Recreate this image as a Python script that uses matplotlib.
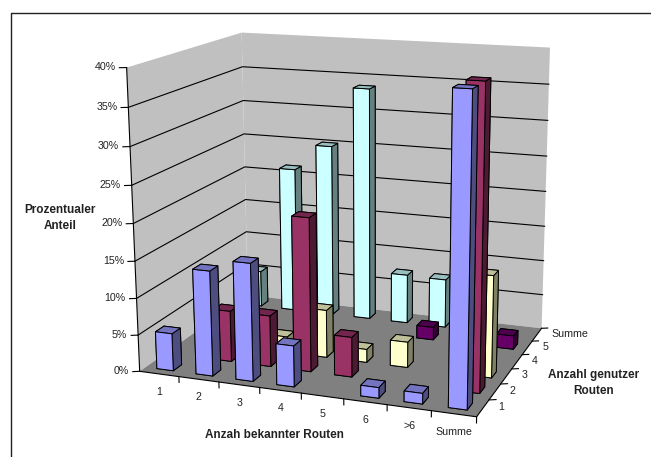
#!/usr/bin/env python3

from __future__ import annotations

import matplotlib

matplotlib.use("Agg")

import matplotlib.pyplot as plt
import numpy as np
from matplotlib.lines import Line2D
from mpl_toolkits.mplot3d.art3d import Poly3DCollection

plt.rcParams["font.family"] = ["Liberation Sans", "DejaVu Sans"]

WIDTH, HEIGHT = 651, 457

known_labels = ["1", "2", "3", "4", "5", "6", ">6", "Summe"]
used_labels = ["1", "2", "3", "4", "5", "Summe"]
z_ticks = [0, 5, 10, 15, 20, 25, 30, 35, 40]

# share in percent per number of known routes, one list per number of used routes
used_1 = [5.1, 14.2, 15.8, 5.5, 0, 1.4, 1.4, 39.6]
used_2 = [0, 7.0, 7.0, 20.8, 5.4, 0, 0, 39.6]
used_3 = [0, 0, 2.2, 6.6, 1.8, 3.5, 0, 13.8]
used_4 = [0, 0, 0, 0, 0, 0, 0, 0]
used_5 = [0, 0, 0, 0, 0, 1.8, 0, 1.9]
used_sum = [5.3, 21.2, 25.0, 33.6, 7.1, 7.0, 0, 0]
series = [used_1, used_2, used_3, used_4, used_5, used_sum]
series_colors = ["#9999FF", "#993366", "#FFFFCC", "#FF8080", "#660066", "#CCFFFF"]

# world point -> image pixel pairs used to fit the camera
calib_world = np.array([
    (0, 0, 0), (8, 0, 0), (8, 6, 0), (0, 6, 0), (0, 0, 40), (0, 6, 40), (8, 6, 40),
    (8, 6, 20), (0, 0, 20), (1, 0, 0), (4, 0, 0), (7, 0, 0), (8, 2, 0), (8, 4, 0),
], dtype=float)
calib_pixel = np.array([
    (139.5, 370), (476.7, 416.7), (540.7, 327.3), (249, 297), (127.7, 68.3), (240.7, 31.7), (550.7, 48.3),
    (545, 190.7), (132.7, 223.3), (178.3, 376), (301, 393.3), (431.7, 411.7), (500.7, 385), (523, 354),
], dtype=float)


def fit_camera(world: np.ndarray, pixel: np.ndarray) -> np.ndarray:
    """Direct linear transform: 3x4 matrix from (x, y, z, 1) to image pixels."""
    scale_w = np.array([1 / 8, 1 / 6, 1 / 40])
    scale_p = 1 / 500
    rows = []
    for (x, y, z), (u, v) in zip(world * scale_w, pixel * scale_p):
        rows.append([x, y, z, 1, 0, 0, 0, 0, -u * x, -u * y, -u * z, -u])
        rows.append([0, 0, 0, 0, x, y, z, 1, -v * x, -v * y, -v * z, -v])
    p = np.linalg.svd(np.array(rows))[2][-1].reshape(3, 4)
    p = np.diag([1 / scale_p, 1 / scale_p, 1]) @ p @ np.diag([*scale_w, 1])
    # keep the depth row positive in front of the camera
    return p if p[2, 3] > 0 else -p


camera = fit_camera(calib_world, calib_pixel)


def to_pixel(x: float, y: float, z: float) -> tuple[float, float]:
    u, v, w = camera @ np.array([x, y, z, 1.0])
    return u / w, v / w


fig = plt.figure(figsize=(WIDTH / 100, HEIGHT / 100), dpi=100)
ax = fig.add_axes([0, 0, 1, 1], projection="3d", computed_zorder=False)
ax.set_axis_off()
ax.set_proj_type("ortho")  # stops Line3D clipping against the unit cube
ax.apply_aspect = lambda position=None: None


def get_proj() -> np.ndarray:
    to_view = ax.transData.inverted().get_matrix()
    flip = np.array([[1, 0, 0], [0, -1, HEIGHT], [0, 0, 1]], dtype=float)
    p = to_view @ flip @ camera
    depth = p[2] - np.array([0, 0, 0, p[2, 3] / 2])
    return np.vstack([p[0], p[1], depth, p[2]])


ax.get_proj = get_proj


def label(px: float, py: float, text: str, **kwargs) -> None:
    fig.text(px / WIDTH, 1 - py / HEIGHT, text, color="#222222", **kwargs)


# walls and floor
walls = [
    ([(0, 0, 0), (0, 6, 0), (0, 6, 40), (0, 0, 40)], "#C0C0C0"),
    ([(0, 6, 0), (8, 6, 0), (8, 6, 40), (0, 6, 40)], "#C0C0C0"),
    ([(0, 0, 0), (8, 0, 0), (8, 6, 0), (0, 6, 0)], "#808080"),
]
for verts, color in walls:
    ax.add_collection3d(Poly3DCollection([verts], facecolors=color, edgecolors="none", zorder=1))

line_style = dict(color="black", linewidth=0.8, zorder=2)
for z in z_ticks[1:-1]:
    ax.plot([0, 0, 8], [0, 6, 6], [z, z, z], **line_style)
for z in z_ticks:
    ax.plot([-0.14, 0], [-0.07, 0], [z, z], **line_style)
    px, py = to_pixel(0, 0, z)
    label(px - 11, py - 0.5, f"{z}%", ha="right", va="center", fontsize=7.7)

ax.plot([0, 0], [0, 0], [0, 40], **line_style)
ax.plot([0, 8, 8], [0, 0, 6], [0, 0, 0], **line_style)

for i, text in enumerate(known_labels):
    ax.plot([i + 1, i + 1], [0, 0], [0, -0.8], **line_style)
    px, py = to_pixel(i + 0.5, 0, 0)
    label(px, py + 18, text, ha="center", va="center", fontsize=7.7)
for i, text in enumerate(used_labels):
    ax.plot([8, 8.14], [i + 1, i + 1.07], [0, 0], **line_style)
    px, py = to_pixel(8, i + 0.5, 0)
    if text == "Summe":
        label(px + 15, py - 1, text, ha="left", va="center", fontsize=7.7)
    else:
        label(px + 18, py - 1, text, ha="center", va="center", fontsize=7.7)


def shaded(color: str) -> list:
    base = np.array(matplotlib.colors.to_rgb(color))
    top = (*(base * 0.75), 1)
    side = (*(base * 0.5), 1)
    front = (*base, 1)
    # bar3d face order: bottom, top, -y, +y, -x, +x
    return [side, top, front, side, side, side]


# bars painted from the back row forward, left to right
BAR = 0.42
order = 3
for row in range(len(series) - 1, -1, -1):
    for col, value in enumerate(series[row]):
        if value <= 0:
            continue
        ax.bar3d(
            col + 0.5 - BAR / 2, row + 0.5 - BAR / 2, 0, BAR, BAR, value,
            color=shaded(series_colors[row]), shade=False,
            edgecolor="black", linewidth=0.7, zorder=order,
        )
        order += 1

title_font = dict(ha="center", va="center", fontsize=8.5, fontweight="bold", linespacing=1.45)
label(60, 218, "Prozentualer\nAnteil", **title_font)
label(274.5, 435, "Anzah bekannter Routen", **title_font)
label(594, 383, "Anzahl genutzer\nRouten", **title_font)

# chart frame: left and top edges only
fig.add_artist(Line2D([10.5 / WIDTH, 10.5 / WIDTH, 1], [0, 1 - 12.5 / HEIGHT, 1 - 12.5 / HEIGHT],
                      color="#222222", linewidth=1.0))

fig.savefig("out.png", dpi=100)
plt.close(fig)
